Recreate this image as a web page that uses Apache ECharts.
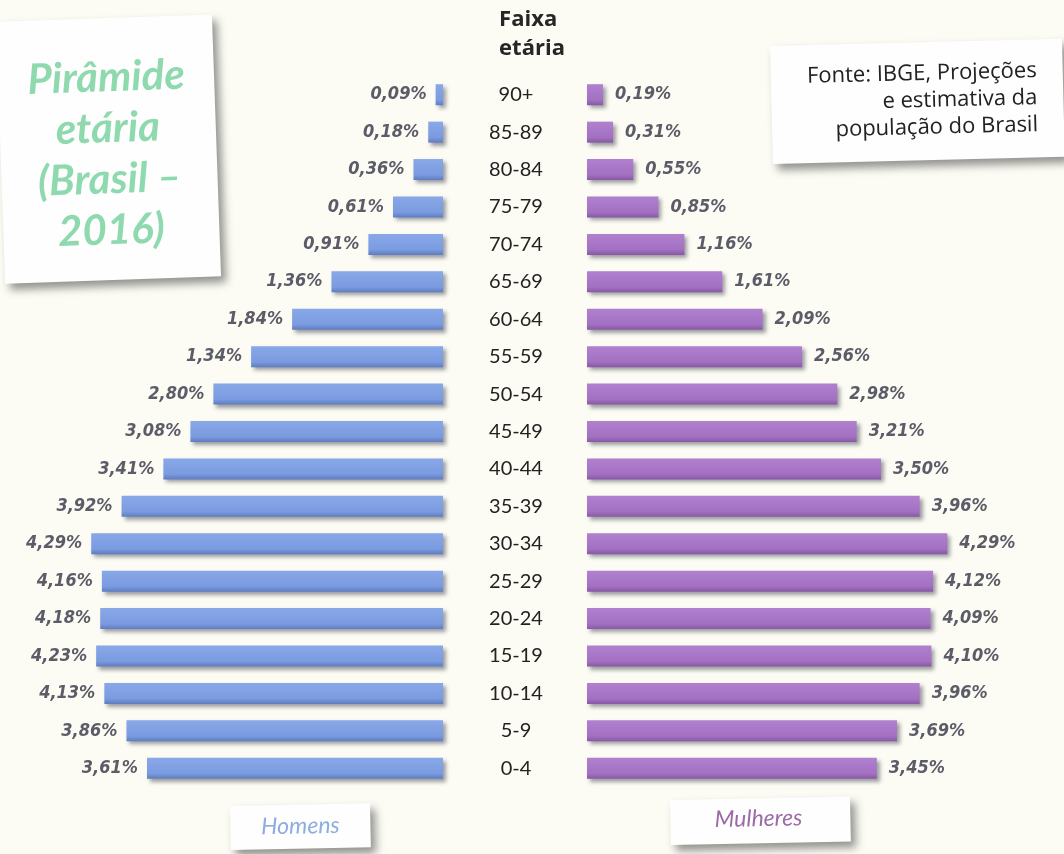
<!DOCTYPE html>
<html>
<head>
<meta charset="utf-8">
<script src="https://cdn.jsdelivr.net/npm/echarts@6/dist/echarts.min.js"></script>
<style>
  html, body { margin: 0; padding: 0; background: #fcfcf4; }
  #chart { width: 1064px; height: 854px; }
</style>
</head>
<body>
<div id="chart"></div>
<script>
// age groups, bottom to top
const ageGroups = ['0-4', '5-9', '10-14', '15-19', '20-24', '25-29', '30-34', '35-39', '40-44',
  '45-49', '50-54', '55-59', '60-64', '65-69', '70-74', '75-79', '80-84', '85-89', '90+'];

// % of population (bar lengths)
const homens = [3.61, 3.86, 4.13, 4.23, 4.18, 4.16, 4.29, 3.92, 3.41, 3.08, 2.80, 2.34, 1.84, 1.36, 0.91, 0.61, 0.36, 0.18, 0.09];
const mulheres = [3.45, 3.69, 3.96, 4.10, 4.09, 4.12, 4.29, 3.96, 3.50, 3.21, 2.98, 2.56, 2.09, 1.61, 1.16, 0.85, 0.55, 0.31, 0.19];

// labels as printed (55-59 homens reads 1,34% in the source)
const homensLabels = ['3,61%', '3,86%', '4,13%', '4,23%', '4,18%', '4,16%', '4,29%', '3,92%', '3,41%', '3,08%',
  '2,80%', '1,34%', '1,84%', '1,36%', '0,91%', '0,61%', '0,36%', '0,18%', '0,09%'];
const mulheresLabels = ['3,45%', '3,69%', '3,96%', '4,10%', '4,09%', '4,12%', '4,29%', '3,96%', '3,50%', '3,21%',
  '2,98%', '2,56%', '2,09%', '1,61%', '1,16%', '0,85%', '0,55%', '0,31%', '0,19%'];

const chart = echarts.init(document.getElementById('chart'));

const valueFont = {
  fontFamily: '"Liberation Sans Narrow", "DejaVu Sans Condensed", sans-serif',
  fontWeight: 'bold',
  fontStyle: 'italic',
  fontSize: 18,
  color: '#5c5c68'
};

function note(x, y, w, h, rot, children) {
  return {
    type: 'group',
    x: x, y: y,
    rotation: rot,
    children: [{
      type: 'rect',
      shape: { x: 0, y: 0, width: w, height: h },
      style: {
        fill: '#fefefe',
        shadowBlur: 8,
        shadowOffsetX: 5,
        shadowOffsetY: 6,
        shadowColor: 'rgba(60,60,60,0.55)'
      }
    }].concat(children)
  };
}

const option = {
  backgroundColor: '#fcfcf4',
  animation: false,
  grid: [
    { left: 33, width: 410, top: 76, height: 711 },
    { left: 587, width: 420, top: 76, height: 711 }
  ],
  xAxis: [
    { gridIndex: 0, type: 'value', min: 0, max: 5, inverse: true, show: false },
    { gridIndex: 1, type: 'value', min: 0, max: 5, show: false }
  ],
  yAxis: [
    {
      gridIndex: 0, type: 'category', data: ageGroups, position: 'right',
      axisLine: { show: false }, axisTick: { show: false },
      axisLabel: {
        margin: 73, align: 'center', fontSize: 20,
        fontFamily: 'Lato, sans-serif', color: '#222'
      }
    },
    {
      gridIndex: 1, type: 'category', data: ageGroups, show: false
    }
  ],
  series: [
    {
      name: 'Homens', type: 'bar', xAxisIndex: 0, yAxisIndex: 0,
      data: homens, barWidth: 21,
      itemStyle: {
        color: new echarts.graphic.LinearGradient(0, 0, 0, 1, [
          { offset: 0, color: '#89a8e8' },
          { offset: 0.75, color: '#7a9be0' },
          { offset: 1, color: '#5f7cbf' }
        ]),
        shadowBlur: 4, shadowOffsetX: 3, shadowOffsetY: 3,
        shadowColor: 'rgba(40,40,60,0.45)'
      },
      label: Object.assign({
        show: true, position: 'left', distance: 9,
        formatter: p => homensLabels[p.dataIndex]
      }, valueFont)
    },
    {
      name: 'Mulheres', type: 'bar', xAxisIndex: 1, yAxisIndex: 1,
      data: mulheres, barWidth: 21,
      itemStyle: {
        color: new echarts.graphic.LinearGradient(0, 0, 0, 1, [
          { offset: 0, color: '#b081cf' },
          { offset: 0.75, color: '#a370c2' },
          { offset: 1, color: '#8659a3' }
        ]),
        shadowBlur: 4, shadowOffsetX: 3, shadowOffsetY: 3,
        shadowColor: 'rgba(40,40,60,0.45)'
      },
      label: Object.assign({
        show: true, position: 'right', distance: 12,
        formatter: p => mulheresLabels[p.dataIndex]
      }, valueFont)
    }
  ],
  graphic: [
    {
      type: 'text', left: 'center', top: 5,
      style: {
        text: 'Faixa\netária', fill: '#262626', align: 'center',
        font: 'bold 22px "Open Sans", sans-serif', lineHeight: 29
      }
    },
    note(-4, 22, 216, 262, 0.035, [{
      type: 'text', x: 108, y: 34,
      style: {
        text: 'Pirâmide\netária\n(Brasil –\n2016)', fill: '#8fd9ae', align: 'center',
        font: 'italic bold 42px Lato, sans-serif', lineHeight: 51
      }
    }]),
    note(770, 46, 292, 118, 0.025, [{
      type: 'text', x: 266, y: 18,
      style: {
        text: 'Fonte: IBGE, Projeções\ne estimativa da\npopulação do Brasil', fill: '#222',
        align: 'right', font: '22px "Open Sans", sans-serif', lineHeight: 27
      }
    }]),
    note(230, 806, 140, 44, 0.02, [{
      type: 'text', x: 70, y: 10,
      style: {
        text: 'Homens', fill: '#8cade0', align: 'center',
        font: 'italic 23px Lato, sans-serif'
      }
    }]),
    note(670, 800, 180, 45, 0.02, [{
      type: 'text', x: 88, y: 9,
      style: {
        text: 'Mulheres', fill: '#9c6aa8', align: 'center',
        font: 'italic 23px Lato, sans-serif'
      }
    }])
  ]
};

chart.setOption(option);
</script>
</body>
</html>
